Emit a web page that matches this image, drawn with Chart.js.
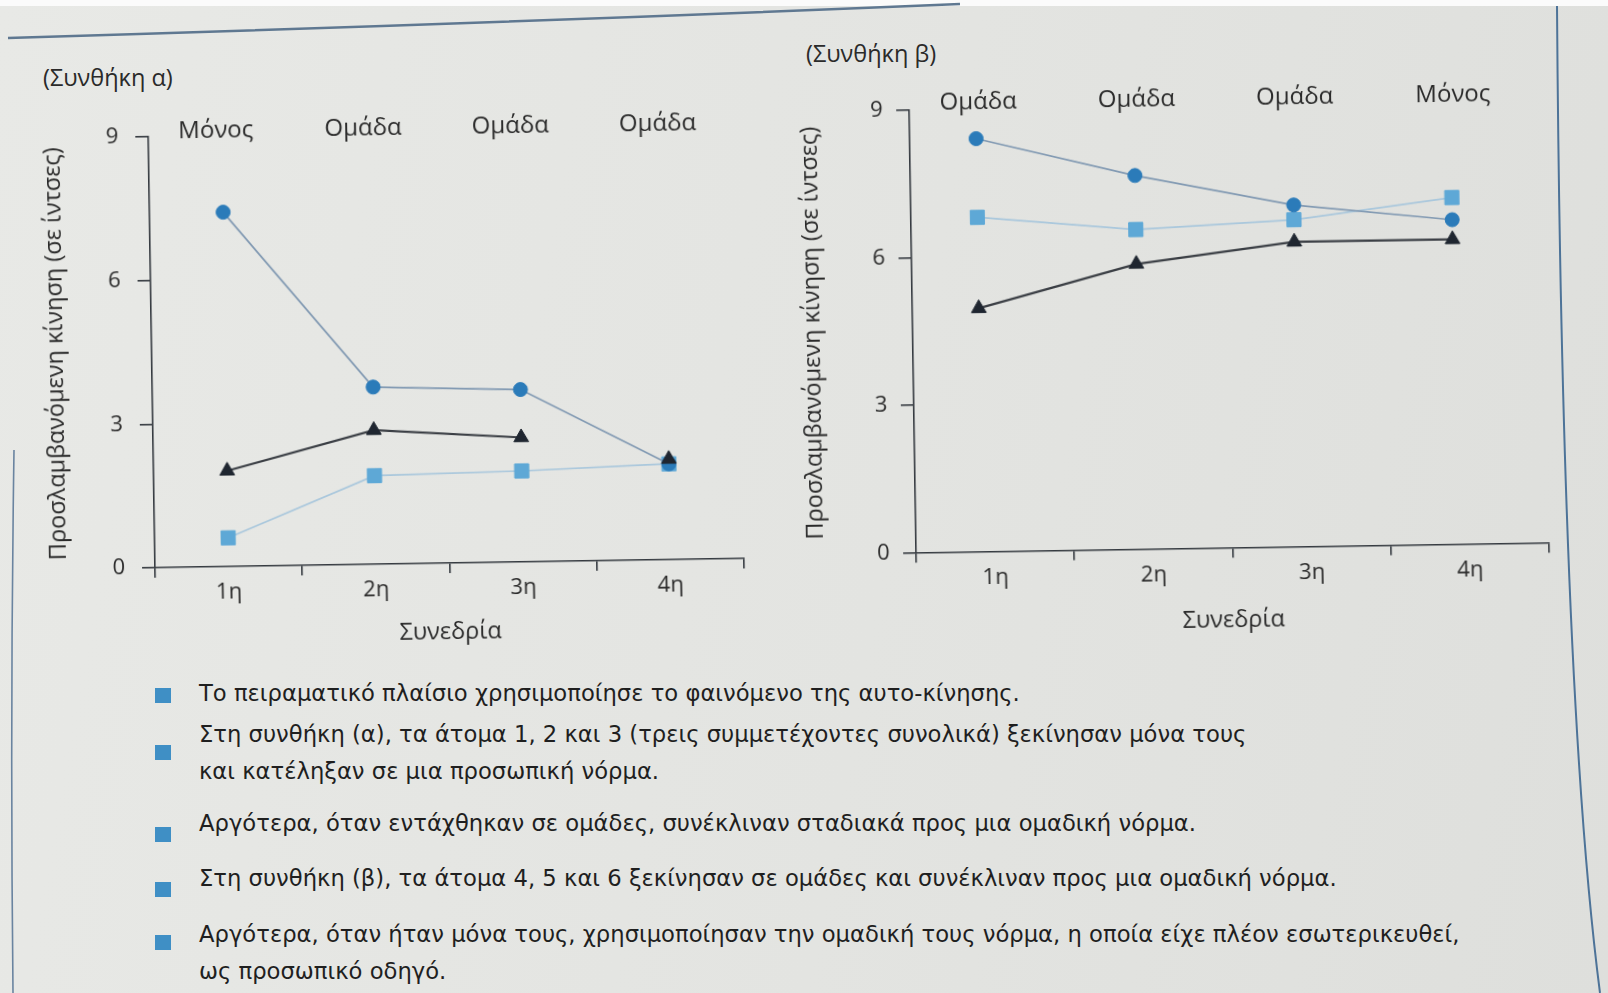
<!DOCTYPE html>
<html lang="el">
<head>
<meta charset="utf-8">
<title>Αυτο-κίνηση: Συνθήκη α και β</title>
<script src="https://cdn.jsdelivr.net/npm/chart.js@4.4.1/dist/chart.umd.min.js"></script>
<style>
  html, body { margin: 0; padding: 0; }
  body {
    width: 1608px; height: 993px; position: relative; overflow: hidden;
    background: linear-gradient(100deg, #e8e9e6 0%, #e3e4e1 55%, #dedfdc 100%);
    font-family: "Open Sans", sans-serif; color: #222;
  }
  .topband { position: absolute; left: 0; top: 0; width: 1608px; height: 6px; background: #fbfbfb; }
  .deco { position: absolute; left: 0; top: 0; }
  .panel { position: absolute; transform: rotate(-0.9deg); }
  #wrapA { left: 20px; top: 90px; width: 740px; height: 560px; }
  #wrapB { left: 780px; top: 60px; width: 800px; height: 580px; }
  .cond { position: absolute; font-size: 23.5px; line-height: 30px; color: #2a2a2a; }
  .bullet { position: absolute; left: 155px; width: 16px; height: 15px; background: #3f8fc5; }
  .item { position: absolute; left: 199px; font-family: "DejaVu Sans", sans-serif; font-size: 22.7px; line-height: 37px; color: #1f1f1f; white-space: nowrap; }
</style>
</head>
<body>
<div class="topband"></div>
<svg class="deco" width="1608" height="993">
  <path d="M8 38 Q 480 24 960 4" stroke="#5f7891" stroke-width="2.5" fill="none"/>
  <path d="M1557 6 Q 1562 700 1600 993" stroke="#4d7398" stroke-width="2" fill="none"/>
  <path d="M14 450 Q 10 720 13 993" stroke="#6a84a0" stroke-width="1.6" fill="none"/>
</svg>

<div class="cond" style="left:43px; top:62px;">(Συνθήκη α)</div>
<div class="cond" style="left:806px; top:38px;">(Συνθήκη β)</div>

<div class="panel" id="wrapA"><canvas id="chartA"></canvas></div>
<div class="panel" id="wrapB"><canvas id="chartB"></canvas></div>

<div class="bullet" style="top:688px;"></div>
<div class="item" style="top:675px;">Το πειραματικό πλαίσιο χρησιμοποίησε το φαινόμενο της αυτο-κίνησης.</div>
<div class="bullet" style="top:745px;"></div>
<div class="item" style="top:716px;">Στη συνθήκη (α), τα άτομα 1, 2 και 3 (τρεις συμμετέχοντες συνολικά) ξεκίνησαν μόνα τους<br>και κατέληξαν σε μια προσωπική νόρμα.</div>
<div class="bullet" style="top:827px;"></div>
<div class="item" style="top:805px;">Αργότερα, όταν εντάχθηκαν σε ομάδες, συνέκλιναν σταδιακά προς μια ομαδική νόρμα.</div>
<div class="bullet" style="top:882px;"></div>
<div class="item" style="top:860px;">Στη συνθήκη (β), τα άτομα 4, 5 και 6 ξεκίνησαν σε ομάδες και συνέκλιναν προς μια ομαδική νόρμα.</div>
<div class="bullet" style="top:935px;"></div>
<div class="item" style="top:916px;">Αργότερα, όταν ήταν μόνα τους, χρησιμοποίησαν την ομαδική τους νόρμα, η οποία είχε πλέον εσωτερικευθεί,<br>ως προσωπικό οδηγό.</div>

<script>
// --- data ---
const sessions = ['1η', '2η', '3η', '4η'];
const yTicks = [0, 3, 6, 9];
const topLabelsA = ['Μόνος', 'Ομάδα', 'Ομάδα', 'Ομάδα'];
const topLabelsB = ['Ομάδα', 'Ομάδα', 'Ομάδα', 'Μόνος'];

// condition (a)
const circleA = [7.4, 3.7, 3.6, 2.0];
const triangleA = [2.0, 2.8, 2.6, 2.1];
const squareA = [0.6, 1.85, 1.9, 2.0];
// condition (b)
const circleB = [8.4, 7.6, 6.95, 6.6];
const triangleB = [4.95, 5.8, 6.2, 6.2];
const squareB = [6.8, 6.5, 6.65, 7.05];

// in (a) the triangle line stops at the 3rd session
const triangleGapA = 2;

const axisColor = '#353a40';
const textColor = '#2a2a2a';
const yTitle = 'Προσλαμβανόμενη κίνηση (σε ίντσες)';

Chart.defaults.font.family = '"Open Sans", sans-serif';
Chart.defaults.color = textColor;

// points sit on a hidden linear axis so a panel's marks can be nudged
// relative to the printed session labels (the book drawing is a bit off)
function toPoints(values) {
    return values.map((v, i) => ({ x: i, y: v }));
}

function buildDatasets(circle, triangle, square, gapAt) {
    const triLine = '#3a3e44';
    return [
        {
            data: toPoints(triangle), xAxisID: 'xd', pointStyle: 'triangle', pointRadius: 8.5,
            pointBackgroundColor: '#1f2630', pointBorderColor: '#1f2630', pointBorderWidth: 1,
            borderColor: triLine, borderWidth: 2.2,
            segment: { borderColor: ctx => ctx.p0DataIndex === gapAt ? 'transparent' : triLine }
        },
        {
            data: toPoints(circle), xAxisID: 'xd', pointStyle: 'circle', pointRadius: 7,
            pointBackgroundColor: '#2b7bb9', pointBorderColor: '#2b7bb9', pointBorderWidth: 1,
            borderColor: '#8199b2', borderWidth: 1.7
        },
        {
            data: toPoints(square), xAxisID: 'xd', pointStyle: 'rect', pointRadius: 10,
            pointBackgroundColor: '#5ea8d6', pointBorderColor: '#5ea8d6', pointBorderWidth: 1,
            borderColor: '#a9c7dc', borderWidth: 1.7
        }
    ];
}

function renderPanel(canvasId, cfg) {
    const ctx = document.getElementById(canvasId).getContext('2d');
    new Chart(ctx, {
        type: 'line',
        data: { datasets: buildDatasets(cfg.circle, cfg.triangle, cfg.square, cfg.gapAt) },
        options: {
            responsive: true,
            maintainAspectRatio: false,
            animation: false,
            layout: { padding: { left: 0, right: cfg.padRight, top: 0, bottom: 0 } },
            plugins: { legend: { display: false }, tooltip: { enabled: false } },
            elements: { line: { tension: 0 } },
            scales: {
                xd: {
                    type: 'linear', display: false,
                    min: -0.5 + cfg.shift, max: sessions.length - 0.5 + cfg.shift
                },
                x: {
                    type: 'category', labels: sessions, offset: true,
                    grid: { display: true, offset: true, drawOnChartArea: false, drawTicks: true, tickLength: 10, color: axisColor, lineWidth: 1.6 },
                    border: { display: true, color: axisColor, width: 1.6 },
                    ticks: { padding: cfg.xTickPad, font: { size: 22 }, color: textColor, maxRotation: 0 },
                    title: { display: true, text: 'Συνεδρία', font: { size: 23.5 }, color: textColor, padding: { top: 0, bottom: cfg.xTitlePad } },
                    afterFit: s => { s.height = cfg.xHeight; }
                },
                // the condition row above each panel; mirrored so the labels
                // may hang a little below the axis box without being clipped
                x2: {
                    type: 'category', position: 'top', labels: cfg.topLabels, offset: true,
                    grid: { display: false, drawTicks: false },
                    border: { display: false },
                    ticks: { mirror: true, padding: cfg.topPad, labelOffset: cfg.topShift, font: { size: 24 }, color: textColor, maxRotation: 0 },
                    afterFit: s => { s.height = cfg.topHeight; }
                },
                y: {
                    min: 0, max: 9,
                    afterBuildTicks: s => { s.ticks = yTicks.map(v => ({ value: v })); },
                    grid: { drawOnChartArea: false, drawTicks: true, tickLength: 13, color: axisColor, lineWidth: 1.6 },
                    border: { display: true, color: axisColor, width: 1.6 },
                    ticks: { padding: cfg.yTickPad, font: { size: 22 }, color: textColor },
                    title: { display: true, text: yTitle, font: { size: 23.5 }, color: textColor, padding: { top: cfg.yTitlePad, bottom: 0 } },
                    afterFit: s => { s.width = cfg.yWidth; }
                }
            }
        }
    });
}

renderPanel('chartA', {
    circle: circleA, triangle: triangleA, square: squareA, gapAt: triangleGapA,
    topLabels: topLabelsA, shift: 0,
    padRight: 19, xHeight: 86, topHeight: 43, yWidth: 132,
    xTickPad: 3, xTitlePad: 3, topPad: -19, topShift: -6, yTickPad: 17, yTitlePad: 22
});

renderPanel('chartB', {
    circle: circleB, triangle: triangleB, square: squareB, gapAt: -1,
    topLabels: topLabelsB, shift: 0.08,
    padRight: 34, xHeight: 91.5, topHeight: 46, yWidth: 133,
    xTickPad: 3.5, xTitlePad: 5, topPad: -21, topShift: -10, yTickPad: 13.5, yTitlePad: 19
});
</script>
</body>
</html>
